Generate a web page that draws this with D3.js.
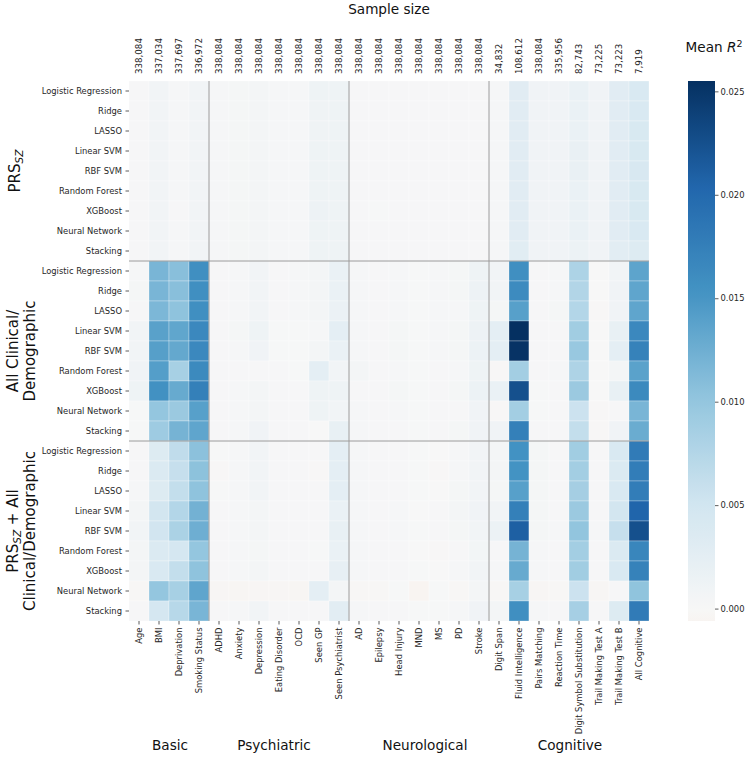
<!DOCTYPE html>
<html>
<head>
<meta charset="utf-8">
<script src="https://cdn.jsdelivr.net/npm/d3@7"></script>
<style>
  body { margin: 0; background: #fff; }
  svg { font-family: "DejaVu Sans", sans-serif; }
</style>
</head>
<body>
<svg id="svg"></svg>
<script>
// columns (outcomes) and their sample sizes
const columns = ["Age", "BMI", "Deprivation", "Smoking Status",
    "ADHD", "Anxiety", "Depression", "Eating Disorder", "OCD", "Seen GP", "Seen Psychiatrist",
    "AD", "Epilepsy", "Head Injury", "MND", "MS", "PD", "Stroke",
    "Digit Span", "Fluid Intelligence", "Pairs Matching", "Reaction Time",
    "Digit Symbol Substitution", "Trail Making Test A", "Trail Making Test B", "All Cognitive"];
const sampleSizes = [338084, 337034, 337697, 336972,
    338084, 338084, 338084, 338084, 338084, 338084, 338084,
    338084, 338084, 338084, 338084, 338084, 338084, 338084,
    34832, 108612, 338084, 335956, 82743, 73225, 73223, 7919];
const colGroups = [
    { name: "Basic", first: "Age", last: "Smoking Status" },
    { name: "Psychiatric", first: "ADHD", last: "Seen Psychiatrist" },
    { name: "Neurological", first: "AD", last: "Stroke" },
    { name: "Cognitive", first: "Digit Span", last: "All Cognitive" }
];
const models = ["Logistic Regression", "Ridge", "LASSO", "Linear SVM", "RBF SVM",
    "Random Forest", "XGBoost", "Neural Network", "Stacking"];

// mean R^2, one row per model
const prsValues = [
    [0.0002, 0.0008, 0.0003, 0.0008, 0.0003, 0.0004, 0.0006, 0.0003, 0.0003, 0.0012, 0.0012, 0.0002, 0.0002, 0.0002, 0.0002, 0.0002, 0.0002, 0.0002, 0.0003, 0.0030, 0.0010, 0.0010, 0.0018, 0.0010, 0.0030, 0.0040],
    [0.0002, 0.0008, 0.0003, 0.0008, 0.0003, 0.0004, 0.0006, 0.0003, 0.0003, 0.0011, 0.0012, 0.0002, 0.0002, 0.0002, 0.0002, 0.0002, 0.0002, 0.0002, 0.0003, 0.0030, 0.0010, 0.0010, 0.0018, 0.0010, 0.0030, 0.0040],
    [0.0002, 0.0008, 0.0003, 0.0008, 0.0003, 0.0004, 0.0006, 0.0003, 0.0003, 0.0011, 0.0012, 0.0002, 0.0002, 0.0002, 0.0002, 0.0002, 0.0002, 0.0002, 0.0003, 0.0030, 0.0010, 0.0010, 0.0018, 0.0010, 0.0030, 0.0041],
    [0.0002, 0.0008, 0.0003, 0.0008, 0.0003, 0.0004, 0.0006, 0.0003, 0.0003, 0.0012, 0.0012, 0.0002, 0.0002, 0.0002, 0.0002, 0.0002, 0.0002, 0.0002, 0.0003, 0.0030, 0.0010, 0.0010, 0.0019, 0.0010, 0.0030, 0.0041],
    [0.0002, 0.0008, 0.0003, 0.0008, 0.0003, 0.0004, 0.0006, 0.0003, 0.0003, 0.0012, 0.0012, 0.0002, 0.0002, 0.0002, 0.0002, 0.0002, 0.0002, 0.0002, 0.0003, 0.0030, 0.0010, 0.0010, 0.0019, 0.0010, 0.0030, 0.0042],
    [0.0002, 0.0008, 0.0003, 0.0008, 0.0003, 0.0004, 0.0006, 0.0003, 0.0003, 0.0012, 0.0012, 0.0002, 0.0002, 0.0002, 0.0002, 0.0002, 0.0002, 0.0002, 0.0003, 0.0030, 0.0010, 0.0010, 0.0018, 0.0010, 0.0030, 0.0041],
    [0.0002, 0.0008, 0.0002, 0.0008, 0.0003, 0.0004, 0.0006, 0.0003, 0.0003, 0.0013, 0.0012, 0.0002, 0.0001, 0.0002, 0.0002, 0.0002, 0.0002, 0.0002, 0.0003, 0.0030, 0.0010, 0.0010, 0.0018, 0.0010, 0.0030, 0.0041],
    [0.0002, 0.0008, 0.0003, 0.0008, 0.0003, 0.0004, 0.0006, 0.0003, 0.0003, 0.0012, 0.0012, 0.0002, 0.0002, 0.0002, 0.0002, 0.0002, 0.0002, 0.0002, 0.0003, 0.0030, 0.0010, 0.0010, 0.0017, 0.0010, 0.0030, 0.0040],
    [0.0002, 0.0008, 0.0003, 0.0008, 0.0003, 0.0004, 0.0006, 0.0003, 0.0003, 0.0012, 0.0012, 0.0002, 0.0002, 0.0002, 0.0002, 0.0002, 0.0002, 0.0002, 0.0003, 0.0029, 0.0010, 0.0010, 0.0015, 0.0010, 0.0028, 0.0035]
];
const clinValues = [
    [0.0003, 0.0118, 0.0108, 0.0158, 0.0002, 0.0003, 0.0008, 0.0002, 0.0003, 0.0006, 0.0018, 0.0003, 0.0002, 0.0003, 0.0001, 0.0003, 0.0004, 0.0012, 0.0008, 0.0158, 0.0002, 0.0003, 0.0080, 0.0000, 0.0008, 0.0136],
    [0.0004, 0.0118, 0.0108, 0.0158, 0.0002, 0.0003, 0.0008, 0.0002, 0.0003, 0.0006, 0.0018, 0.0003, 0.0002, 0.0003, 0.0001, 0.0003, 0.0004, 0.0013, 0.0008, 0.0162, 0.0002, 0.0003, 0.0076, 0.0000, 0.0010, 0.0135],
    [0.0002, 0.0116, 0.0104, 0.0157, 0.0002, 0.0003, 0.0008, 0.0002, 0.0003, 0.0005, 0.0016, 0.0003, 0.0002, 0.0003, 0.0001, 0.0003, 0.0003, 0.0012, 0.0004, 0.0140, 0.0002, 0.0004, 0.0075, -0.0001, 0.0010, 0.0135],
    [0.0008, 0.0139, 0.0134, 0.0165, 0.0002, 0.0004, 0.0012, 0.0001, 0.0001, 0.0003, 0.0025, 0.0003, 0.0002, 0.0004, 0.0001, 0.0003, 0.0004, 0.0013, 0.0025, 0.0255, 0.0002, 0.0002, 0.0090, 0.0000, 0.0020, 0.0165],
    [0.0008, 0.0141, 0.0132, 0.0165, 0.0002, 0.0003, 0.0010, 0.0001, 0.0001, 0.0006, 0.0018, 0.0003, 0.0002, 0.0004, 0.0001, 0.0003, 0.0004, 0.0015, 0.0025, 0.0252, 0.0002, 0.0002, 0.0097, 0.0000, 0.0025, 0.0172],
    [0.0010, 0.0142, 0.0085, 0.0163, 0.0002, 0.0002, 0.0002, 0.0002, 0.0001, 0.0025, 0.0008, 0.0005, 0.0002, 0.0003, 0.0001, 0.0002, 0.0003, 0.0012, -0.0001, 0.0088, 0.0002, 0.0003, 0.0079, 0.0000, 0.0006, 0.0138],
    [0.0012, 0.0155, 0.0130, 0.0175, 0.0002, 0.0003, 0.0006, 0.0002, 0.0002, 0.0012, 0.0012, 0.0002, 0.0002, 0.0004, 0.0001, 0.0002, 0.0004, 0.0015, 0.0018, 0.0225, 0.0001, 0.0002, 0.0095, 0.0000, 0.0020, 0.0163],
    [0.0001, 0.0100, 0.0095, 0.0140, 0.0002, 0.0003, 0.0005, 0.0002, 0.0002, 0.0012, 0.0008, 0.0003, 0.0002, 0.0003, 0.0001, 0.0002, 0.0002, 0.0010, -0.0001, 0.0088, 0.0001, 0.0002, 0.0055, -0.0001, 0.0002, 0.0118],
    [0.0001, 0.0092, 0.0120, 0.0135, 0.0002, 0.0003, 0.0010, 0.0002, 0.0002, 0.0000, 0.0020, 0.0003, 0.0002, 0.0002, 0.0001, 0.0002, 0.0004, 0.0010, 0.0010, 0.0175, 0.0002, 0.0002, 0.0062, -0.0001, 0.0010, 0.0128]
];
const combValues = [
    [0.0002, 0.0035, 0.0065, 0.0106, 0.0001, 0.0003, 0.0008, 0.0002, 0.0002, 0.0002, 0.0025, 0.0003, 0.0002, 0.0002, 0.0001, 0.0000, 0.0003, 0.0008, 0.0006, 0.0154, 0.0004, 0.0002, 0.0090, 0.0002, 0.0040, 0.0180],
    [0.0002, 0.0037, 0.0060, 0.0105, -0.0001, 0.0003, 0.0008, 0.0002, 0.0002, -0.0001, 0.0025, 0.0003, 0.0002, 0.0002, 0.0001, -0.0001, 0.0003, 0.0008, 0.0005, 0.0153, 0.0004, 0.0002, 0.0088, 0.0002, 0.0038, 0.0178],
    [0.0003, 0.0035, 0.0062, 0.0104, 0.0001, 0.0003, 0.0008, 0.0002, 0.0002, 0.0002, 0.0025, 0.0003, 0.0002, 0.0002, 0.0001, 0.0000, 0.0004, 0.0008, 0.0004, 0.0140, 0.0004, 0.0002, 0.0087, 0.0002, 0.0040, 0.0178],
    [0.0006, 0.0048, 0.0075, 0.0122, 0.0002, 0.0003, 0.0006, 0.0002, 0.0002, 0.0002, 0.0018, 0.0003, 0.0002, 0.0003, 0.0000, 0.0002, 0.0006, 0.0010, 0.0008, 0.0175, 0.0004, 0.0002, 0.0095, 0.0002, 0.0048, 0.0205],
    [0.0008, 0.0050, 0.0082, 0.0125, 0.0002, 0.0003, 0.0006, 0.0002, 0.0002, 0.0002, 0.0020, 0.0003, 0.0002, 0.0003, 0.0001, 0.0002, 0.0004, 0.0008, 0.0015, 0.0210, 0.0004, 0.0003, 0.0102, 0.0003, 0.0060, 0.0225],
    [0.0006, 0.0038, 0.0045, 0.0100, 0.0002, 0.0003, 0.0004, 0.0002, 0.0002, 0.0001, 0.0018, 0.0003, 0.0002, 0.0002, 0.0000, -0.0001, 0.0002, 0.0007, 0.0002, 0.0120, 0.0003, 0.0002, 0.0088, 0.0002, 0.0038, 0.0168],
    [0.0005, 0.0040, 0.0062, 0.0104, 0.0002, 0.0003, 0.0006, 0.0002, 0.0002, 0.0002, 0.0022, 0.0003, 0.0002, 0.0002, 0.0001, 0.0000, 0.0003, 0.0008, 0.0003, 0.0130, 0.0003, 0.0002, 0.0090, 0.0002, 0.0040, 0.0172],
    [-0.0002, 0.0100, 0.0085, 0.0135, -0.0003, -0.0004, -0.0003, -0.0003, -0.0004, 0.0025, 0.0006, -0.0002, -0.0002, 0.0001, -0.0006, 0.0001, -0.0002, 0.0006, -0.0002, 0.0085, -0.0003, -0.0002, 0.0055, -0.0003, 0.0002, 0.0103],
    [0.0002, 0.0045, 0.0072, 0.0118, 0.0002, 0.0003, 0.0008, 0.0002, 0.0002, 0.0002, 0.0028, 0.0003, 0.0002, 0.0002, 0.0001, 0.0001, 0.0003, 0.0010, 0.0006, 0.0158, 0.0003, 0.0002, 0.0086, 0.0002, 0.0035, 0.0180]
];
const rowGroups = [
    { key: "prs", lines: [["PRS", "SZ"]], values: prsValues },
    { key: "clin", lines: [["All Clinical/"], ["Demographic"]], values: clinValues },
    { key: "comb", lines: [["PRS", "SZ", " + All"], ["Clinical/Demographic"]], values: combValues }
];
const cbarTicks = [0, 0.005, 0.01, 0.015, 0.02, 0.025];

// matplotlib RdBu anchor colours (linear segments)
const RDBU = ["#67001f", "#b2182b", "#d6604d", "#f4a582", "#fddbc7", "#f7f7f7",
    "#d1e5f0", "#92c5de", "#4393c3", "#2166ac", "#053061"];

const W = 745, H = 780;
const LEFT = 129, RIGHT = 649, TOP = 81, BOTTOM = 621;
// nudges of the column group titles (as placed in the original)
const groupShift = { "Basic": 1, "Psychiatric": -5, "Neurological": 6, "Cognitive": 1 };

const svg = d3.select("#svg").attr("width", W).attr("height", H);

// rows: group|model
const rowKeys = [];
rowGroups.forEach(g => models.forEach(m => rowKeys.push(g.key + "|" + m)));

const x = d3.scaleBand().domain(columns).range([LEFT, RIGHT]);
const y = d3.scaleBand().domain(rowKeys).range([TOP, BOTTOM]);

// flatten cells
const cells = [];
rowGroups.forEach(g => {
    g.values.forEach((row, i) => {
        row.forEach((v, j) => {
            cells.push({ row: g.key + "|" + models[i], col: columns[j], value: v });
        });
    });
});

// seaborn style centred colormap (RdBu_r, centre 0)
const vmin = d3.min(cells, d => d.value);
const vmax = d3.max(cells, d => d.value);
const vrange = Math.max(vmax, -vmin);
const rdbu = d3.scaleLinear()
    .domain(RDBU.map((c, i) => i / (RDBU.length - 1)))
    .range(RDBU)
    .interpolate(d3.interpolateRgb);
const color = v => rdbu(0.5 + v / (2 * vrange));

//cells
svg.append("g")
    .selectAll("rect")
    .data(cells)
    .join("rect")
    .attr("x", d => x(d.col))
    .attr("y", d => y(d.row))
    .attr("width", x.bandwidth())
    .attr("height", y.bandwidth())
    .attr("fill", d => color(d.value))
    .attr("stroke", "rgba(255,255,255,0.55)")
    .attr("stroke-width", 0.5);

//group separators
const sep = svg.append("g")
    .attr("stroke", "#9a9a9a")
    .attr("stroke-width", 1);
colGroups.slice(1).forEach(g => {
    sep.append("line")
        .attr("x1", x(g.first)).attr("x2", x(g.first))
        .attr("y1", TOP).attr("y2", BOTTOM);
});
rowGroups.slice(1).forEach(g => {
    const yy = y(g.key + "|" + models[0]);
    sep.append("line")
        .attr("x1", LEFT).attr("x2", RIGHT)
        .attr("y1", yy).attr("y2", yy);
});

const tickFont = "8.4px";

//left axis (models)
const yAxis = svg.append("g")
    .attr("transform", `translate(${LEFT},0)`)
    .call(d3.axisLeft(y).tickSizeOuter(0).tickSize(3.5).tickPadding(3.5).tickFormat(d => d.split("|")[1]));
yAxis.select(".domain").remove();
yAxis.selectAll("line").attr("stroke", "#333").attr("stroke-width", 0.8);
yAxis.selectAll("text").style("font-size", tickFont).attr("fill", "#262626")
    .style("font-family", "DejaVu Sans");

//bottom axis (outcomes)
const xAxis = svg.append("g")
    .attr("transform", `translate(0,${BOTTOM})`)
    .call(d3.axisBottom(x).tickSizeOuter(0).tickSize(3.5));
xAxis.select(".domain").remove();
xAxis.selectAll("line").attr("stroke", "#333").attr("stroke-width", 0.8);
xAxis.selectAll("text")
    .attr("transform", "rotate(-90)")
    .attr("x", -6.5)
    .attr("y", 0)
    .attr("dy", "0.35em")
    .style("text-anchor", "end")
    .style("font-size", tickFont)
    .style("font-family", "DejaVu Sans")
    .attr("fill", "#262626");

//top axis (sample sizes)
const fmt = d3.format(",");
const topAxis = svg.append("g")
    .attr("transform", `translate(0,${TOP})`)
    .call(d3.axisTop(x).tickSizeOuter(0).tickSize(0).tickFormat((d, i) => fmt(sampleSizes[i])));
topAxis.select(".domain").remove();
topAxis.selectAll("text")
    .attr("transform", "rotate(-90)")
    .attr("x", 7)
    .attr("y", 0)
    .attr("dy", "0.35em")
    .style("text-anchor", "start")
    .style("font-size", "8.7px")
    .style("font-family", "DejaVu Sans")
    .attr("fill", "#262626");

svg.append("text")
    .attr("x", (LEFT + RIGHT) / 2)
    .attr("y", 14)
    .attr("text-anchor", "middle")
    .style("font-size", "13.6px")
    .attr("fill", "#111")
    .text("Sample size");

//column group labels
colGroups.forEach(g => {
    const cx = (x(g.first) + x(g.last) + x.bandwidth()) / 2 + groupShift[g.name];
    svg.append("text")
        .attr("x", cx)
        .attr("y", 750)
        .attr("text-anchor", "middle")
        .style("font-size", "13.6px")
        .attr("fill", "#111")
        .text(g.name);
});

//row group labels
rowGroups.forEach(g => {
    const cy = y(g.key + "|" + models[4]) + y.bandwidth() / 2;
    const n = g.lines.length;
    g.lines.forEach((parts, li) => {
        const bx = n === 1 ? 20 : 18 + li * 17;
        const t = svg.append("text")
            .attr("transform", `translate(${bx},${cy}) rotate(-90)`)
            .attr("text-anchor", "middle")
            .style("font-size", "15px")
            .attr("fill", "#111");
        parts.forEach((p, pi) => {
            if (p === "SZ") {
                t.append("tspan").attr("dy", 3).style("font-size", "10.5px")
                    .style("font-style", "italic").text(p);
            } else if (pi > 0) {
                t.append("tspan").attr("dy", -3).text(p);
            } else {
                t.append("tspan").text(p);
            }
        });
    });
});

//colorbar
const CB_X = 688, CB_W = 27;
const cy = d3.scaleLinear().domain([vmin, vmax]).range([BOTTOM, TOP]);
const defs = svg.append("defs");
const grad = defs.append("linearGradient")
    .attr("id", "cbar")
    .attr("x1", 0).attr("y1", 1).attr("x2", 0).attr("y2", 0);
d3.range(0, 1.0001, 0.02).forEach(f => {
    const v = vmin + f * (vmax - vmin);
    grad.append("stop").attr("offset", f).attr("stop-color", color(v));
});
svg.append("rect")
    .attr("x", CB_X)
    .attr("y", TOP)
    .attr("width", CB_W)
    .attr("height", BOTTOM - TOP)
    .attr("fill", "url(#cbar)");
const cAxis = svg.append("g")
    .attr("transform", `translate(${CB_X + CB_W},0)`)
    .call(d3.axisRight(cy).tickValues(cbarTicks).tickFormat(d3.format(".3f")).tickSize(3.5).tickPadding(2));
cAxis.select(".domain").remove();
cAxis.selectAll("line").attr("stroke", "#333").attr("stroke-width", 0.8);
cAxis.selectAll("text").style("font-size", tickFont).style("font-family", "DejaVu Sans").attr("fill", "#262626");

const mt = svg.append("text")
    .attr("x", 714)
    .attr("y", 52)
    .attr("text-anchor", "middle")
    .style("font-size", "13.6px")
    .attr("fill", "#111");
mt.append("tspan").text("Mean ");
mt.append("tspan").style("font-style", "italic").text("R");
mt.append("tspan").attr("dy", -5).style("font-size", "9.5px").text("2");
</script>
</body>
</html>
